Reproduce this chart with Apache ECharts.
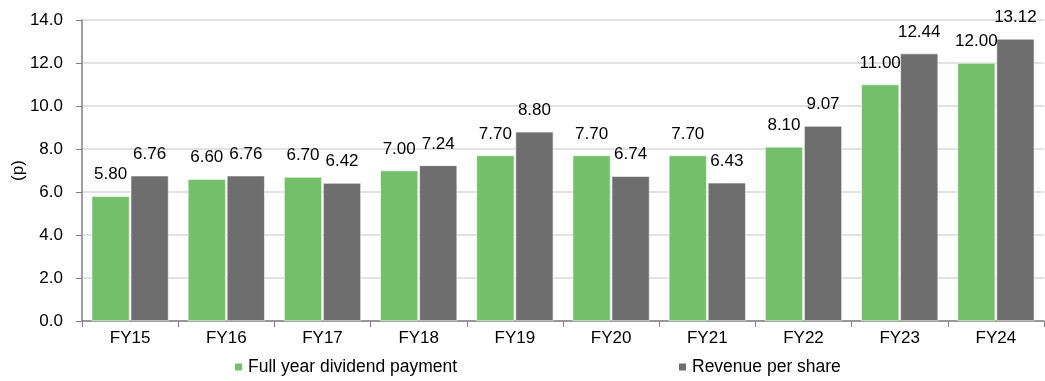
<!DOCTYPE html>
<html>
<head>
<meta charset="utf-8">
<script src="https://cdn.jsdelivr.net/npm/echarts@6/dist/echarts.min.js"></script>
<style>
html,body{margin:0;padding:0;background:#fff;}
#chart{width:1045px;height:381px;}
</style>
</head>
<body>
<div id="chart"></div>
<script>
var categories = ['FY15','FY16','FY17','FY18','FY19','FY20','FY21','FY22','FY23','FY24'];
var dividend = [5.80, 6.60, 6.70, 7.00, 7.70, 7.70, 7.70, 8.10, 11.00, 12.00];
var revenue = [6.76, 6.76, 6.42, 7.24, 8.80, 6.74, 6.43, 9.07, 12.44, 13.12];
var seriesNames = ['Full year dividend payment', 'Revenue per share'];
var yTicks = {min: 0, max: 14, interval: 2};

var FONT = '"Liberation Sans", Arial, sans-serif';
var FS = 17;
var chart = echarts.init(document.getElementById('chart'), null, {renderer: 'canvas'});
var labelStyle = {
  show: true, position: 'top', distance: 13,
  color: '#000', fontFamily: FONT, fontSize: FS,
  formatter: function (p) { return p.value.toFixed(2); }
};
chart.setOption({
  animation: false,
  textStyle: {fontFamily: FONT},
  grid: {left: 82, right: 1, top: 20, bottom: 60, containLabel: false, outerBoundsMode: 'none'},
  legend: [
    {data: [seriesNames[0]], left: 233, top: 358, padding: 0, itemWidth: 9, itemHeight: 9, itemGap: 0,
     icon: 'rect', textStyle: {fontFamily: FONT, fontSize: 17.5, color: '#000'}},
    {data: [seriesNames[1]], left: 677, top: 358, padding: 0, itemWidth: 9, itemHeight: 9, itemGap: 0,
     icon: 'rect', textStyle: {fontFamily: FONT, fontSize: 17.5, color: '#000'}}
  ],
  xAxis: {
    type: 'category', data: categories,
    axisLine: {lineStyle: {color: '#808080', width: 1.5}},
    axisTick: {show: true, length: 6, lineStyle: {color: '#808080'}},
    axisLabel: {color: '#000', fontFamily: FONT, fontSize: FS, margin: 9},
    splitLine: {show: false}
  },
  yAxis: {
    type: 'value', min: yTicks.min, max: yTicks.max, interval: yTicks.interval,
    name: '(p)', nameLocation: 'middle', nameGap: 55, nameRotate: 90, nameMoveOverlap: false,
    nameTextStyle: {color: '#000', fontFamily: FONT, fontSize: FS},
    axisLine: {show: true, lineStyle: {color: '#808080', width: 1.5}},
    axisTick: {show: true, length: 6, lineStyle: {color: '#808080'}},
    axisLabel: {color: '#000', fontFamily: FONT, fontSize: FS, margin: 19,
      formatter: function (v) { return v.toFixed(1); }},
    splitLine: {show: true, lineStyle: {color: '#d9d9d9', width: 1.5}}
  },
  series: [
    {name: seriesNames[0], type: 'bar', data: dividend, barGap: '3%', barCategoryGap: '20%',
     itemStyle: {color: '#73BF6A', borderColor: '#ffffff', borderWidth: 0.6}, label: labelStyle},
    {name: seriesNames[1], type: 'bar', data: revenue,
     itemStyle: {color: '#6E6E6E', borderColor: '#ffffff', borderWidth: 0.6}, label: labelStyle}
  ]
});
</script>
</body>
</html>
